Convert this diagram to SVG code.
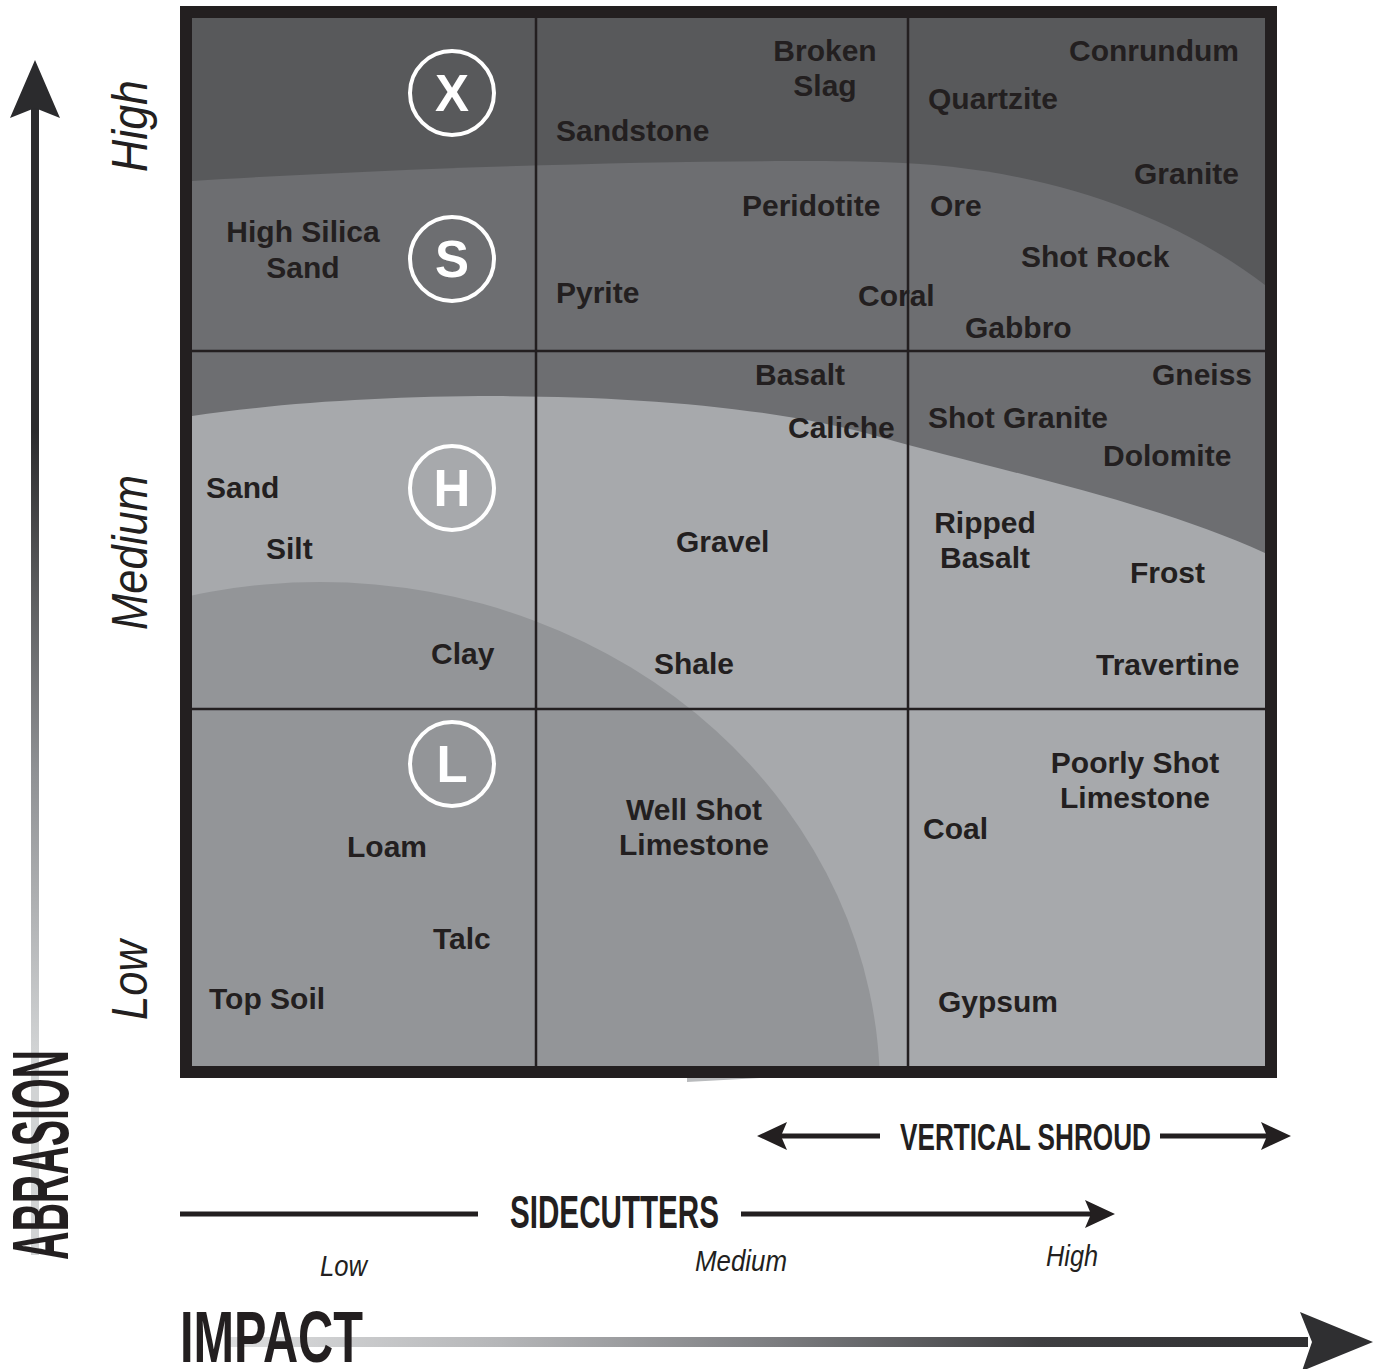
<svg xmlns="http://www.w3.org/2000/svg" width="1378" height="1369" viewBox="0 0 1378 1369">
  <style>
    .lbl { font-family: "Liberation Sans", Arial, sans-serif; font-weight: bold; font-size: 30px; fill: #231f20; }
    .mid { text-anchor: middle; }
    .zone { font-family: "Liberation Sans", Arial, sans-serif; font-weight: bold; font-size: 51px; fill: #ffffff; text-anchor: middle; }
    .ring { fill: none; stroke: #ffffff; stroke-width: 4; }
    .grid { stroke: #231f20; stroke-width: 2.5; fill: none; }
    .axis { font-family: "Liberation Sans", Arial, sans-serif; font-style: italic; fill: #231f20; }
    .title { font-family: "Liberation Sans", Arial, sans-serif; font-weight: bold; fill: #231f20; }
    .conn { stroke: #231f20; stroke-width: 5; fill: none; }
  </style>
  <defs>
    <clipPath id="inner"><rect x="192" y="18" width="1073" height="1048"/></clipPath>
    <linearGradient id="vgrad" gradientUnits="userSpaceOnUse" x1="0" y1="1050" x2="0" y2="430">
      <stop offset="0" stop-color="#d1d3d4"/>
      <stop offset="0.45" stop-color="#8f9194"/>
      <stop offset="0.8" stop-color="#505153"/>
      <stop offset="1" stop-color="#2b2b2d"/>
    </linearGradient>
    <linearGradient id="hgrad" gradientUnits="userSpaceOnUse" x1="230" y1="0" x2="1310" y2="0">
      <stop offset="0" stop-color="#dcddde"/>
      <stop offset="0.25" stop-color="#b5b6b8"/>
      <stop offset="0.5" stop-color="#7d7e81"/>
      <stop offset="0.75" stop-color="#3f3f41"/>
      <stop offset="1" stop-color="#2f2f31"/>
    </linearGradient>
    <marker id="ah" markerUnits="userSpaceOnUse" viewBox="-6 -14 30 28" markerWidth="30" markerHeight="28" refX="0" refY="0" orient="auto-start-reverse">
      <path d="M0,0 L-6,-14 L24,0 L-6,14 Z" fill="#231f20"/>
    </marker>
  </defs>

  <!-- chart zones -->
  <g id="zones" clip-path="url(#inner)">
    <rect x="192" y="18" width="1073" height="1048" fill="#58595b"/>
    <path d="M192,181 C400,168 700,158 880,162 C1050,166 1180,220 1265,285 L1265,1066 L192,1066 Z" fill="#6d6e71"/>
    <path d="M192,416 C380,388 700,385 880,437 C980,466 1150,500 1265,553 L1265,1066 L192,1066 Z" fill="#a7a9ac"/>
    <ellipse cx="320" cy="1090" rx="560" ry="508" fill="#939598"/>
  </g>
  <polygon points="687,1078 760,1078 687,1082" fill="#b9bbbd"/>

  <!-- grid -->
  <g id="grid">
    <line class="grid" x1="536" y1="18" x2="536" y2="1066"/>
    <line class="grid" x1="908" y1="18" x2="908" y2="1066"/>
    <line class="grid" x1="192" y1="351" x2="1265" y2="351"/>
    <line class="grid" x1="192" y1="709" x2="1265" y2="709"/>
  </g>
  <rect id="frame" x="186" y="12" width="1085" height="1060" fill="none" stroke="#231f20" stroke-width="12"/>

  <!-- zone markers -->
  <g id="zone-X"><circle class="ring" cx="452" cy="93" r="42"/><text class="zone" x="452" y="111">X</text></g>
  <g id="zone-S"><circle class="ring" cx="452" cy="259" r="42"/><text class="zone" x="452" y="277">S</text></g>
  <g id="zone-H"><circle class="ring" cx="452" cy="488" r="42"/><text class="zone" x="452" y="506">H</text></g>
  <g id="zone-L"><circle class="ring" cx="452" cy="764" r="42"/><text class="zone" x="452" y="782">L</text></g>

  <!-- materials -->
  <g id="materials">
    <text class="lbl mid" x="825" y="61">Broken</text>
    <text class="lbl mid" x="825" y="96">Slag</text>
    <text class="lbl" x="1069" y="61">Conrundum</text>
    <text class="lbl" x="928" y="109">Quartzite</text>
    <text class="lbl" x="556" y="141">Sandstone</text>
    <text class="lbl" x="1134" y="184">Granite</text>
    <text class="lbl" x="742" y="216">Peridotite</text>
    <text class="lbl" x="930" y="216">Ore</text>
    <text class="lbl mid" x="303" y="242">High Silica</text>
    <text class="lbl mid" x="303" y="278">Sand</text>
    <text class="lbl" x="1021" y="267">Shot Rock</text>
    <text class="lbl" x="556" y="303">Pyrite</text>
    <text class="lbl" x="858" y="306">Coral</text>
    <text class="lbl" x="965" y="338">Gabbro</text>
    <text class="lbl" x="755" y="385">Basalt</text>
    <text class="lbl" x="1152" y="385">Gneiss</text>
    <text class="lbl" x="788" y="438">Caliche</text>
    <text class="lbl" x="928" y="428">Shot Granite</text>
    <text class="lbl" x="1103" y="466">Dolomite</text>
    <text class="lbl" x="206" y="498">Sand</text>
    <text class="lbl" x="266" y="559">Silt</text>
    <text class="lbl" x="676" y="552">Gravel</text>
    <text class="lbl mid" x="985" y="533">Ripped</text>
    <text class="lbl mid" x="985" y="568">Basalt</text>
    <text class="lbl" x="1130" y="583">Frost</text>
    <text class="lbl" x="431" y="664">Clay</text>
    <text class="lbl" x="654" y="674">Shale</text>
    <text class="lbl" x="1096" y="675">Travertine</text>
    <text class="lbl mid" x="1135" y="773">Poorly Shot</text>
    <text class="lbl mid" x="1135" y="808">Limestone</text>
    <text class="lbl mid" x="694" y="820">Well Shot</text>
    <text class="lbl mid" x="694" y="855">Limestone</text>
    <text class="lbl" x="923" y="839">Coal</text>
    <text class="lbl" x="347" y="857">Loam</text>
    <text class="lbl" x="433" y="949">Talc</text>
    <text class="lbl" x="209" y="1009">Top Soil</text>
    <text class="lbl" x="938" y="1012">Gypsum</text>
  </g>

  <!-- abrasion axis -->
  <g id="abrasion-axis">
    <rect x="31" y="100" width="8" height="1155" fill="url(#vgrad)"/>
    <polygon points="35,60 60,118 35,108 10,118" fill="#2b2b2d"/>
    <text class="title" transform="translate(68,1260) rotate(-90)" font-size="80" textLength="210" lengthAdjust="spacingAndGlyphs">ABRASION</text>
    <text class="axis" transform="translate(147,172) rotate(-90)" font-size="50" textLength="92" lengthAdjust="spacingAndGlyphs">High</text>
    <text class="axis" transform="translate(147,630) rotate(-90)" font-size="50" textLength="155" lengthAdjust="spacingAndGlyphs">Medium</text>
    <text class="axis" transform="translate(147,1020) rotate(-90)" font-size="50" textLength="80" lengthAdjust="spacingAndGlyphs">Low</text>
  </g>

  <!-- impact axis -->
  <g id="impact-axis">
    <rect x="228" y="1337" width="1080" height="10" fill="url(#hgrad)"/>
    <polygon points="1373,1342 1300,1312 1312,1342 1302,1371" fill="#2f2f31"/>
    <text class="title" x="180" y="1362" font-size="73" textLength="183" lengthAdjust="spacingAndGlyphs">IMPACT</text>
    <text class="axis" x="320" y="1276" font-size="30" textLength="47" lengthAdjust="spacingAndGlyphs">Low</text>
    <text class="axis" x="695" y="1271" font-size="30" textLength="92" lengthAdjust="spacingAndGlyphs">Medium</text>
    <text class="axis" x="1046" y="1266" font-size="30" textLength="52" lengthAdjust="spacingAndGlyphs">High</text>
  </g>

  <!-- connectors -->
  <g id="connectors">
    <line class="conn" x1="180" y1="1214" x2="478" y2="1214"/>
    <line class="conn" x1="741" y1="1214" x2="1091" y2="1214" marker-end="url(#ah)"/>
    <line class="conn" x1="781" y1="1136" x2="880" y2="1136" marker-start="url(#ah)"/>
    <line class="conn" x1="1160" y1="1136" x2="1267" y2="1136" marker-end="url(#ah)"/>
  </g>
  <g id="sidecutters"><text class="title" x="510" y="1228" font-size="46" textLength="209" lengthAdjust="spacingAndGlyphs">SIDECUTTERS</text></g>
  <g id="vertical-shroud"><text class="title" x="900" y="1150" font-size="37" textLength="251" lengthAdjust="spacingAndGlyphs">VERTICAL SHROUD</text></g>
</svg>
